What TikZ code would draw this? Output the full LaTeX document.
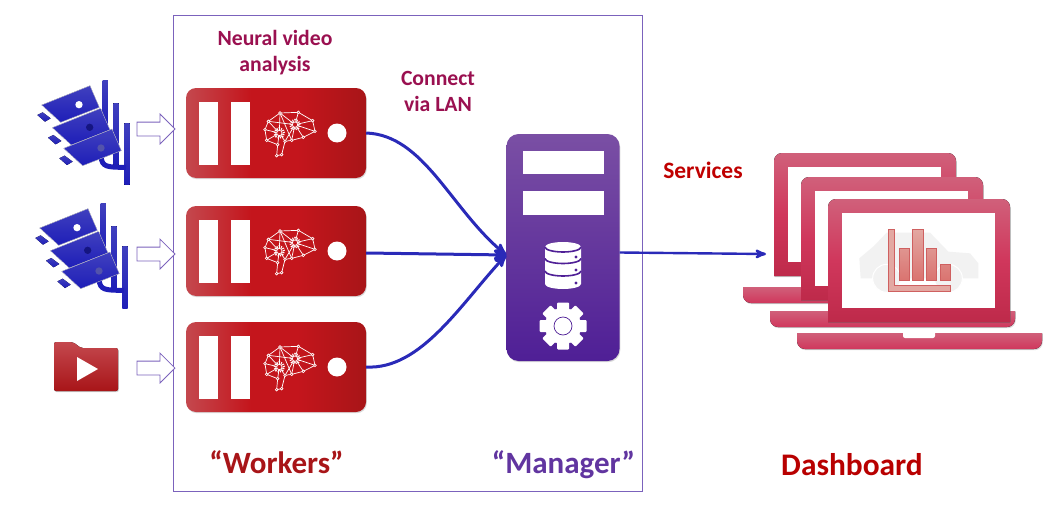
\documentclass[tikz,border=0pt]{standalone}
\usepackage{fontspec}
\setmainfont{Carlito}
\usetikzlibrary{arrows}
\usetikzlibrary{calc,shadows,shapes.arrows}
\definecolor{frameviolet}{HTML}{7B62BC}
\definecolor{linkblue}{HTML}{2A2AB8}
\definecolor{camblue}{HTML}{1E1EB8}
\definecolor{camlight}{HTML}{4040BE}
\definecolor{redleft}{HTML}{C4484E}
\definecolor{redmid}{HTML}{C4151C}
\definecolor{redright}{HTML}{A81518}
\definecolor{purptop}{HTML}{7A4FA4}
\definecolor{purpbot}{HTML}{4F1F96}
\definecolor{rosetop}{HTML}{D0607A}
\definecolor{rosemid}{HTML}{D0375C}
\definecolor{rosebot}{HTML}{BE2A4A}
\definecolor{wine}{HTML}{9A1050}
\definecolor{chartlight}{HTML}{E3A8A2}
\definecolor{chartdark}{HTML}{DA7470}
\definecolor{chartedge}{HTML}{CF6060}
\pgfdeclarehorizontalshading{workershade}{100bp}{color(0bp)=(redleft); color(25bp)=(redleft); color(43bp)=(redmid); color(56bp)=(redmid); color(75bp)=(redright); color(100bp)=(redright)}
\tikzset{
 softshadow/.style={drop shadow={shadow xshift=.8pt,shadow yshift=-1.2pt,opacity=.3}},
 worker/.style={rounded corners=10pt, minimum width=180pt, minimum height=90pt, inner sep=0,
   shading=workershade, softshadow},
 manager/.style={rounded corners=12pt, minimum width=113pt, minimum height=227pt, inner sep=0,
   top color=purptop, bottom color=purpbot, softshadow},
 feed/.style={single arrow, draw=frameviolet, fill=white, line width=.8pt, inner xsep=0, inner ysep=6.5pt,
   minimum height=38pt, single arrow head extend=8pt, anchor=tip},
 link/.style={draw=linkblue, line width=3pt, ->, >=stealth'},
 slot/.style={fill=white},
 caption/.style={font=\bfseries\fontsize{21.7}{26}\selectfont, align=center, inner sep=0},
 bigcaption/.style={font=\bfseries\fontsize{31}{36}\selectfont, inner sep=0},
 camera/.pic={
  \foreach \x/\yy/\ye in {248/32/180, 280/100/285, 313/160/345}
   \fill[top color=camlight, bottom color=camblue] (\x,\yy) rectangle (\x+16,\ye);
  \draw[camblue, line width=5pt] (243,262) .. controls (248,290) and (258,292) .. (318,292);
  \foreach \dx/\dy/\lens in {0/0/white, 32/68/camblue!70!black, 66/130/camlight!70!gray} {
   \begin{scope}[shift={(\dx,\dy)}]
   \filldraw[draw=white!80!gray, line width=.3pt, top color=camlight, bottom color=camblue]
     (65,105) -- (210,47) -- (238,112) -- (122,157) -- cycle;
   \fill[top color=camlight, bottom color=camblue]
     (52,135) -- (68,127) -- (92,145) -- (75,155) -- cycle;
   \fill[\lens] (177,104) circle (11pt);
   \end{scope}
  }
 },
 brain/.pic={
  \coordinate (a) at (-75,-10); \coordinate (b) at (-65,-35); \coordinate (c) at (-30,-60);
  \coordinate (d) at (25,-62);  \coordinate (e) at (68,-37);  \coordinate (f) at (75,-5);
  \coordinate (g) at (40,13);   \coordinate (h) at (5,22);    \coordinate (i) at (-15,25);
  \coordinate (j) at (-25,65);  \coordinate (k) at (-40,68);  \coordinate (l) at (-37,35);
  \coordinate (m) at (-70,22);  \coordinate (p) at (-32,0);   \coordinate (q) at (15,-25);
  \foreach \s/\t in {a/b,b/c,c/d,d/e,e/f,f/g,g/h,h/i,i/j,j/k,k/l,l/m,m/a,b/p,c/p,a/p,m/p,l/p,i/p,
    c/q,d/q,e/q,f/q,g/q,h/q,c/h,i/q,b/q}
   \draw[white, line width=.7pt] (\s) -- (\t);
  \foreach \s in {a,b,c,d,e,f,g,h,i,j,k,l,m}
   \filldraw[draw=white, fill=redmid, line width=.6pt] (\s) circle (4pt);
  \foreach \s in {p,q} {
   \draw[white, line width=2.4pt, dash pattern=on 1pt off 1.2pt] (\s) circle (14pt);
   \filldraw[draw=white, fill=redmid, line width=.7pt] (\s) circle (8pt);
  }
 },
 laptop/.pic={
  \fill[top color=rosetop, bottom color=rosemid, softshadow]
    (-31,134) -- (214,134) -- (214,142) arc (0:-90:8pt) -- (-23,150) arc (-90:-180:8pt) -- cycle;
  \fill[white] (75,134) -- (107,134) -- (107,137) arc (0:-90:2pt) -- (77,139) arc (-90:-180:2pt) -- cycle;
  \fill[top color=rosetop, bottom color=rosebot, middle color=rosemid, softshadow]
    (0,123) -- (0,8) arc (180:90:8pt) -- (174,0) arc (90:0:8pt) -- (182,123) -- cycle;
  \fill[white] (14,14) rectangle (167,109);
 }
}
\begin{document}
\begin{tikzpicture}[x=1pt,y=-1pt]
\useasboundingbox (0,0) rectangle (1055,511);
\draw[frameviolet, line width=1pt] (173,16) rectangle (642,491);
\pic at (20,70) [scale=1/3] {camera};
\pic at (18,193) [scale=1/3] {camera};
\fill[top color=redleft, middle color=redmid, bottom color=redright, rounded corners=2pt, softshadow]
  (54,391) -- (54,342) -- (73,342) -- (81,348) -- (118,348) -- (118,391) -- cycle;
\fill[white] (77,357) -- (98,369) -- (77,381) -- cycle;
\foreach \n/\y/\a in {1/133/129, 2/251/254, 3/367/368} {
 \node[worker] (worker\n) at (276,\y) {};
 \node[feed] (feed\n) at (175.5,\a) {};
 \fill[slot] (199,\y-31) rectangle (218,\y+32);
 \fill[slot] (231,\y-31) rectangle (250,\y+32);
 \fill[white] (337,\y) circle (9.5pt);
 \pic at (290,\y) [scale=1/3] {brain};
}
\node[manager] (manager) at (563,247.5) {};
\fill[slot] (523,151) rectangle (604,174);
\fill[slot] (523,191) rectangle (604,215);
\fill[white] (545,247) arc (180:360:18pt and 5pt) arc (0:180:18pt and 5pt) -- cycle;
\fill[white] (545,247) -- (545,284) arc (180:360:18pt and 5pt) -- (581,247) arc (0:-180:18pt and 5pt) -- cycle;
\foreach \y in {247,258.5,271}
 \draw[purpbot, line width=1.6pt] (545,\y) arc (180:360:18pt and 5pt);
\foreach \y in {257,270,283}
 \fill[purpbot] (576,\y) circle (1.6pt);
\foreach \a in {0,45,...,315}
 \fill[white, rounded corners=1pt, rotate around={\a:(563,326)}] (557,302.5) rectangle (569,315);
\filldraw[white] (563,326) circle (18pt);
\draw[purpbot, line width=.7pt] (563,326) circle (9pt);
\draw[link] (worker1.east) .. controls +(58,2) and +(-55,-45) .. ([yshift=-7.5pt]manager.west);
\draw[link] ([yshift=-2pt]worker2.east) -- ([yshift=-7.5pt]manager.west);
\draw[link] (worker3.east) .. controls +(55,3) and +(-45,48) .. ([yshift=-7.5pt]manager.west);
\coordinate (dashin) at (766,254);
\draw[link, line width=2.4pt] ([yshift=-5pt]manager.east) -- (dashin);
\pic at (774,153) {laptop};
\pic at (801,177) {laptop};
\pic at (828,199) {laptop};
\begin{scope}[shift={(730,140)},scale=1/3]
\fill[black!5] (392,415) -- (388,355) -- (432,318) -- (470,278) -- (600,278) -- (655,335) -- (720,340) -- (745,370) -- (745,415) -- cycle;
\filldraw[draw=white, fill=black!5, line width=1pt] (470,415) circle (42pt);
\filldraw[draw=white, fill=black!5, line width=1pt] (655,415) circle (42pt);
\filldraw[draw=chartedge, line width=.6pt, top color=chartlight, bottom color=chartdark]
  (507,326) rectangle (538,420) (548,268) rectangle (579,420) (589,326) rectangle (620,420) (630,373) rectangle (660,420);
\filldraw[draw=chartedge, fill=chartlight, line width=.6pt] (474,268) -- (492,268) -- (492,437) -- (660,437) -- (660,455) -- (474,455) -- cycle;
\end{scope}
\node[caption, text=wine] (neural) at (275,52.5) {Neural video\\analysis};
\node[caption, text=wine] (lan) at (438,91) {Connect\\via LAN};
\node[caption, font=\bfseries\fontsize{23.5}{26}\selectfont, text=red!75!black] (services) at (703,170) {Services};
\node[bigcaption, text=redright] (workers) at (276.5,462) {“Workers”};
\node[bigcaption, text=purpbot!90!white] (mgr) at (563.5,465) {“Manager”};
\node[bigcaption, font=\bfseries\fontsize{31.4}{36}\selectfont, text=red!72!black] (dash) at (852,465) {Dashboard};
\end{tikzpicture}
\end{document}
